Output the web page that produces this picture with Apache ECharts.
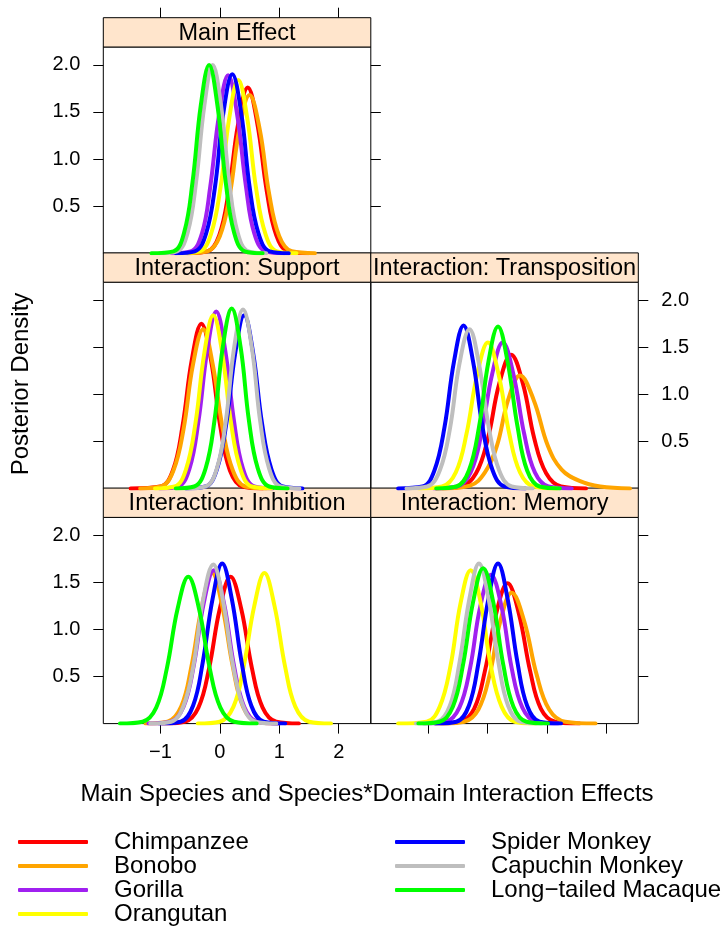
<!DOCTYPE html>
<html>
<head>
<meta charset="utf-8">
<script src="https://cdn.jsdelivr.net/npm/echarts@6/dist/echarts.min.js"></script>
<style>
  html, body { margin: 0; padding: 0; background: #fff; }
  #chart { width: 725px; height: 927px; }
</style>
</head>
<body>
<div id="chart"></div>
<script>
// 物种、颜色与面板标题
const species = ['Chimpanzee', 'Bonobo', 'Gorilla', 'Orangutan',
  'Spider Monkey', 'Capuchin Monkey', 'Long\u2212tailed Macaque'];
const speciesColors = ['#FF0000', '#FFA500', '#A020F0', '#FFFF00', '#0000FF', '#BEBEBE', '#00FF00'];
const panelTitles = ['Main Effect', 'Interaction: Support', 'Interaction: Transposition',
  'Interaction: Inhibition', 'Interaction: Memory'];

// 刻度
const xTickValues = [-1, 0, 1, 2];
const xTickLabels = ['\u22121', '0', '1', '2'];
const yTickValues = [0.5, 1, 1.5, 2];
const yTickLabels = ['0.5', '1.0', '1.5', '2.0'];

// 各面板后验密度曲线（按 species 顺序），点为 [x, density]
const mainEffect = [
  [[-0.55,0],[-0.21,0.02],[-0.01,0.19],[0.15,0.66],[0.31,1.38],[0.47,1.76],[0.63,1.38],[0.79,0.66],[0.95,0.19],[1.15,0.02],[1.49,0]],
  [[-0.57,0],[-0.21,0.02],[0.00,0.18],[0.17,0.63],[0.33,1.32],[0.50,1.68],[0.67,1.32],[0.83,0.63],[1.00,0.18],[1.21,0.02],[1.60,0]],
  [[-0.81,0],[-0.49,0.02],[-0.30,0.21],[-0.16,0.71],[-0.01,1.48],[0.14,1.89],[0.29,1.48],[0.44,0.71],[0.58,0.21],[0.77,0.02],[1.09,0]],
  [[-0.67,0],[-0.34,0.02],[-0.15,0.20],[0.01,0.69],[0.16,1.44],[0.31,1.84],[0.46,1.44],[0.61,0.69],[0.77,0.20],[0.96,0.02],[1.29,0]],
  [[-0.74,0],[-0.42,0.02],[-0.23,0.21],[-0.08,0.71],[0.06,1.49],[0.21,1.90],[0.36,1.49],[0.50,0.71],[0.65,0.21],[0.84,0.02],[1.16,0]],
  [[-1.02,0],[-0.72,0.02],[-0.54,0.22],[-0.40,0.75],[-0.26,1.57],[-0.12,2.00],[0.02,1.57],[0.16,0.75],[0.30,0.22],[0.48,0.02],[0.78,0]],
  [[-1.15,0],[-0.78,0.02],[-0.60,0.22],[-0.46,0.75],[-0.32,1.57],[-0.18,2.00],[-0.04,1.57],[0.10,0.75],[0.24,0.22],[0.42,0.02],[0.72,0]]
];
const support = [
  [[-1.50,0],[-1.00,0.02],[-0.79,0.19],[-0.63,0.65],[-0.47,1.37],[-0.31,1.75],[-0.15,1.37],[0.01,0.65],[0.17,0.19],[0.38,0.02],[0.72,0]],
  [[-1.34,0],[-0.99,0.02],[-0.78,0.19],[-0.61,0.63],[-0.45,1.32],[-0.28,1.69],[-0.12,1.32],[0.05,0.63],[0.22,0.19],[0.43,0.02],[0.78,0]],
  [[-1.01,0],[-0.70,0.02],[-0.51,0.21],[-0.36,0.71],[-0.21,1.47],[-0.06,1.88],[0.09,1.47],[0.24,0.71],[0.39,0.21],[0.58,0.02],[0.89,0]],
  [[-1.09,0],[-0.76,0.02],[-0.57,0.20],[-0.41,0.69],[-0.26,1.44],[-0.11,1.84],[0.04,1.44],[0.19,0.69],[0.35,0.20],[0.54,0.02],[0.87,0]],
  [[-0.57,0],[-0.24,0.02],[-0.05,0.20],[0.11,0.69],[0.26,1.44],[0.41,1.84],[0.56,1.44],[0.71,0.69],[0.87,0.20],[1.06,0.02],[1.39,0]],
  [[-0.56,0],[-0.24,0.02],[-0.05,0.21],[0.10,0.71],[0.24,1.49],[0.39,1.90],[0.54,1.49],[0.68,0.71],[0.83,0.21],[1.02,0.02],[1.34,0]],
  [[-0.74,0],[-0.43,0.02],[-0.24,0.21],[-0.09,0.72],[0.05,1.50],[0.20,1.91],[0.35,1.50],[0.49,0.72],[0.64,0.21],[0.83,0.02],[1.14,0]]
];
const transposition = [
  [[-0.86,0],[-0.44,0.02],[-0.19,0.16],[0.01,0.53],[0.20,1.11],[0.40,1.42],[0.60,1.11],[0.79,0.53],[0.99,0.16],[1.24,0.02],[1.66,0]],
  [[-0.75,0],[-0.29,0.03],[-0.04,0.17],[0.16,0.45],[0.35,0.94],[0.55,1.20],[0.78,0.94],[1.02,0.45],[1.25,0.20],[1.55,0.08],[1.90,0.02],[2.40,0]],
  [[-0.90,0],[-0.51,0.02],[-0.28,0.17],[-0.10,0.58],[0.08,1.21],[0.26,1.55],[0.44,1.21],[0.62,0.58],[0.80,0.17],[1.03,0.02],[1.42,0]],
  [[-1.15,0],[-0.76,0.02],[-0.53,0.17],[-0.35,0.58],[-0.17,1.21],[0.01,1.55],[0.19,1.21],[0.37,0.58],[0.55,0.17],[0.78,0.02],[1.17,0]],
  [[-1.50,0],[-1.09,0.02],[-0.89,0.19],[-0.72,0.65],[-0.56,1.35],[-0.40,1.73],[-0.24,1.35],[-0.08,0.65],[0.09,0.19],[0.29,0.02],[0.64,0]],
  [[-1.36,0],[-1.01,0.02],[-0.80,0.19],[-0.63,0.63],[-0.47,1.32],[-0.30,1.69],[-0.14,1.32],[0.03,0.63],[0.20,0.19],[0.41,0.02],[0.76,0]],
  [[-0.86,0],[-0.52,0.02],[-0.31,0.19],[-0.14,0.65],[0.02,1.35],[0.18,1.72],[0.34,1.35],[0.51,0.65],[0.67,0.19],[0.88,0.02],[1.22,0]]
];
const inhibition = [
  [[-0.97,0],[-0.59,0.02],[-0.36,0.17],[-0.18,0.59],[0.00,1.22],[0.18,1.56],[0.36,1.22],[0.54,0.59],[0.72,0.17],[0.95,0.02],[1.33,0]],
  [[-1.25,0],[-0.88,0.02],[-0.65,0.18],[-0.48,0.60],[-0.30,1.25],[-0.13,1.60],[0.04,1.25],[0.22,0.60],[0.39,0.18],[0.62,0.02],[0.99,0]],
  [[-1.20,0],[-0.83,0.02],[-0.61,0.18],[-0.44,0.61],[-0.27,1.28],[-0.10,1.63],[0.07,1.28],[0.24,0.61],[0.41,0.18],[0.63,0.02],[1.00,0]],
  [[-0.37,0],[0.00,0.02],[0.23,0.18],[0.40,0.60],[0.58,1.25],[0.75,1.60],[0.92,1.25],[1.10,0.60],[1.27,0.18],[1.50,0.02],[1.87,0]],
  [[-1.02,0],[-0.66,0.02],[-0.45,0.19],[-0.29,0.64],[-0.12,1.33],[0.04,1.70],[0.20,1.33],[0.37,0.64],[0.53,0.19],[0.74,0.02],[1.10,0]],
  [[-1.17,0],[-0.82,0.02],[-0.61,0.19],[-0.44,0.63],[-0.28,1.32],[-0.11,1.69],[0.05,1.32],[0.22,0.63],[0.39,0.19],[0.60,0.02],[0.95,0]],
  [[-1.68,0],[-1.30,0.02],[-1.07,0.17],[-0.89,0.59],[-0.71,1.22],[-0.53,1.56],[-0.35,1.22],[-0.17,0.59],[0.01,0.17],[0.24,0.02],[0.62,0]]
];
const memory = [
  [[-0.87,0],[-0.46,0.02],[-0.22,0.16],[-0.04,0.56],[0.15,1.17],[0.34,1.49],[0.53,1.17],[0.72,0.56],[0.90,0.16],[1.14,0.02],[1.55,0]],
  [[-0.78,0],[-0.39,0.02],[-0.15,0.15],[0.04,0.52],[0.22,1.09],[0.41,1.39],[0.62,1.09],[0.83,0.52],[1.04,0.15],[1.31,0.02],[1.82,0]],
  [[-1.07,0],[-0.70,0.02],[-0.47,0.17],[-0.29,0.59],[-0.12,1.24],[0.06,1.58],[0.24,1.24],[0.41,0.59],[0.59,0.17],[0.82,0.02],[1.19,0]],
  [[-1.50,0],[-1.02,0.02],[-0.80,0.18],[-0.62,0.61],[-0.45,1.28],[-0.28,1.63],[-0.11,1.28],[0.06,0.61],[0.24,0.18],[0.46,0.02],[0.82,0]],
  [[-0.88,0],[-0.52,0.02],[-0.31,0.19],[-0.15,0.64],[0.02,1.33],[0.18,1.70],[0.34,1.33],[0.51,0.64],[0.67,0.19],[0.88,0.02],[1.24,0]],
  [[-1.20,0],[-0.84,0.02],[-0.63,0.19],[-0.47,0.64],[-0.30,1.33],[-0.14,1.70],[0.02,1.33],[0.19,0.64],[0.35,0.19],[0.56,0.02],[0.92,0]],
  [[-1.16,0],[-0.80,0.02],[-0.58,0.18],[-0.41,0.62],[-0.24,1.29],[-0.07,1.65],[0.10,1.29],[0.27,0.62],[0.44,0.18],[0.66,0.02],[1.02,0]]
];
const panelData = [mainEffect, support, transposition, inhibition, memory];

// 布局（lattice 风格：每个面板上方一条标题带）
const FONT = '"Liberation Sans", Arial, sans-serif';
const X_MIN = -1.96, X_MAX = 2.54;
const Y_MIN = 0, Y_MAX = 2.19;
const COL_LEFT = [103.3, 370.8];
const COL_W = 267.5;
const ROW_TOP = [17.7, 252.9, 488.1];
const STRIP_H = 29.3;
const PLOT_H = 206.2;
const panelPos = [[0, 0], [1, 0], [1, 1], [2, 0], [2, 1]]; // [row, col]

function tickStyle(show) {
  return { show: show, length: 10, inside: false, lineStyle: { color: '#000', width: 1 } };
}

function xAxisFor(gridIndex, ticks, labels, extra) {
  return Object.assign({
    type: 'value', gridIndex: gridIndex, min: X_MIN, max: X_MAX,
    axisLine: { show: false, onZero: false },
    splitLine: { show: false },
    axisTick: Object.assign(tickStyle(ticks), { customValues: xTickValues }),
    axisLabel: {
      show: labels, customValues: xTickValues, margin: 19,
      fontSize: 20, color: '#000', fontFamily: FONT,
      formatter: v => xTickLabels[xTickValues.indexOf(Math.round(v))]
    }
  }, extra || {});
}

function yAxisFor(gridIndex, position, ticks, labels) {
  return {
    type: 'value', gridIndex: gridIndex, min: Y_MIN, max: Y_MAX, position: position,
    axisLine: { show: false, onZero: false },
    splitLine: { show: false },
    axisTick: Object.assign(tickStyle(ticks), { customValues: yTickValues }),
    axisLabel: {
      show: labels, customValues: yTickValues, margin: 23,
      fontSize: 20, color: '#000', fontFamily: FONT,
      formatter: v => yTickLabels[yTickValues.indexOf(Math.round(v * 2) / 2)]
    }
  };
}

const grids = panelPos.map(([r, c]) => ({
  left: COL_LEFT[c], top: ROW_TOP[r] + STRIP_H, width: COL_W, height: PLOT_H,
  show: true, borderColor: '#000', borderWidth: 1, backgroundColor: 'transparent'
}));

const xAxes = [
  xAxisFor(0, false, false, { position: 'bottom' }),
  xAxisFor(1, false, false, { position: 'bottom' }),
  xAxisFor(2, false, false, { position: 'bottom' }),
  xAxisFor(3, true, true, { position: 'bottom' }),
  xAxisFor(4, true, false, { position: 'bottom' }),
  xAxisFor(0, true, false, { position: 'top', offset: STRIP_H })
];
const yAxes = [
  yAxisFor(0, 'left', true, true),
  yAxisFor(1, 'left', true, false),
  yAxisFor(2, 'right', true, true),
  yAxisFor(3, 'left', true, true),
  yAxisFor(4, 'right', true, false),
  yAxisFor(0, 'right', true, false)
];

const series = [];
panelData.forEach((curves, p) => {
  curves.forEach((pts, s) => {
    series.push({
      name: species[s],
      type: 'line',
      xAxisIndex: p,
      yAxisIndex: p,
      data: pts,
      smooth: 0.4,
      showSymbol: false,
      symbol: 'none',
      silent: true,
      z: 2,
      lineStyle: { color: speciesColors[s], width: 4, cap: 'round', join: 'round' },
      itemStyle: { color: speciesColors[s] }
    });
  });
});

// 标题带与坐标轴标题
const graphics = [];
panelPos.forEach(([r, c], p) => {
  graphics.push({
    type: 'rect',
    shape: { x: COL_LEFT[c], y: ROW_TOP[r], width: COL_W, height: STRIP_H },
    style: { fill: '#FFE5CC', stroke: '#000', lineWidth: 1 },
    silent: true
  });
  graphics.push({
    type: 'text',
    x: COL_LEFT[c] + COL_W / 2, y: ROW_TOP[r] + STRIP_H / 2 + 1,
    style: {
      text: panelTitles[p], fill: '#000', font: '23.5px ' + FONT,
      textAlign: 'center', textVerticalAlign: 'middle'
    },
    silent: true
  });
});
graphics.push({
  type: 'text', x: 367, y: 794,
  style: {
    text: 'Main Species and Species*Domain Interaction Effects', fill: '#000',
    font: '24px ' + FONT, textAlign: 'center', textVerticalAlign: 'middle'
  },
  silent: true
});
graphics.push({
  type: 'text', x: 21, y: 384, rotation: Math.PI / 2,
  style: {
    text: 'Posterior Density', fill: '#000',
    font: '24px ' + FONT, textAlign: 'center', textVerticalAlign: 'middle'
  },
  silent: true
});

function legendFor(names, left) {
  return {
    data: names, left: left, top: 830, orient: 'vertical',
    padding: 0, itemGap: 0, itemWidth: 70, itemHeight: 4,
    icon: 'roundRect', selectedMode: false,
    textStyle: { fontSize: 24, lineHeight: 23.3, color: '#000', fontFamily: FONT, padding: [0, 0, 0, 21] }
  };
}

const chart = echarts.init(document.getElementById('chart'), null, { renderer: 'canvas' });
chart.setOption({
  backgroundColor: '#fff',
  animation: false,
  grid: grids,
  xAxis: xAxes,
  yAxis: yAxes,
  legend: [legendFor(species.slice(0, 4), 18), legendFor(species.slice(4), 395)],
  graphic: graphics,
  series: series
});
</script>
</body>
</html>
